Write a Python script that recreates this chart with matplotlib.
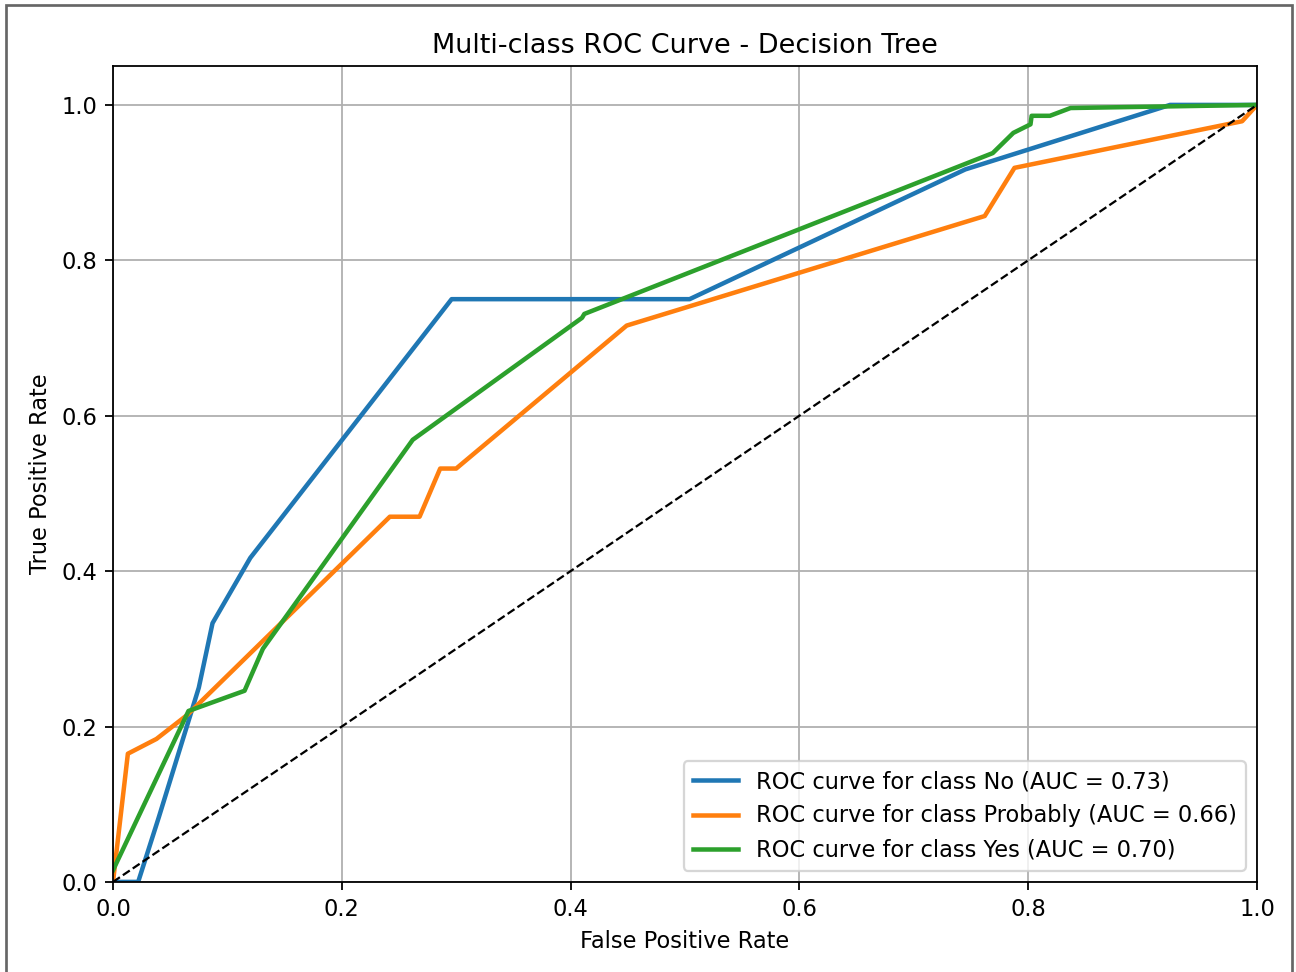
import matplotlib
matplotlib.use("Agg")
import matplotlib.pyplot as plt
from matplotlib.patches import Rectangle

# Data
fpr_no = [0.0, 0.022, 0.04, 0.075, 0.087, 0.12, 0.296, 0.504, 0.745, 0.924, 1.0]
tpr_no = [0.0, 0.0, 0.083, 0.25, 0.333, 0.417, 0.75, 0.75, 0.917, 1.0, 1.0]

fpr_prob = [0.0, 0.013, 0.038, 0.065, 0.242, 0.268, 0.286, 0.30, 0.449, 0.762, 0.788, 0.987, 1.0]
tpr_prob = [0.0, 0.165, 0.184, 0.215, 0.47, 0.47, 0.532, 0.532, 0.716, 0.857, 0.919, 0.979, 1.0]

fpr_yes = [0.0, 0.066, 0.115, 0.131, 0.262, 0.41, 0.412, 0.769, 0.787, 0.802, 0.803, 0.819, 0.837, 1.0]
tpr_yes = [0.015, 0.22, 0.246, 0.30, 0.569, 0.726, 0.731, 0.938, 0.964, 0.975, 0.986, 0.986, 0.996, 1.0]

class_names = ["No", "Probably", "Yes"]
auc_values = [0.73, 0.66, 0.70]
colors = ["#1f77b4", "#ff7f0e", "#2ca02c"]

fig = plt.figure(figsize=(8, 6), dpi=162)
ax = fig.add_axes([113 / 1296, 1 - 881 / 971, (1257 - 113) / 1296, (881 - 66) / 971])

curves = [(fpr_no, tpr_no), (fpr_prob, tpr_prob), (fpr_yes, tpr_yes)]
for (f, t), name, auc, c in zip(curves, class_names, auc_values, colors):
    ax.plot(f, t, color=c, lw=2, label=f"ROC curve for class {name} (AUC = {auc:.2f})")

ax.plot([0, 1], [0, 1], "k--", lw=1)
ax.set_xlim(0.0, 1.0)
ax.set_ylim(0.0, 1.05)
ax.set_xlabel("False Positive Rate")
ax.set_ylabel("True Positive Rate")
ax.set_title("Multi-class ROC Curve - Decision Tree")
ax.legend(loc="lower right")
ax.grid(True)

# screenshot border
fig.patches.append(Rectangle((6 / 1296, -0.01), (1292 - 6) / 1296, 1 - 5 / 971 + 0.01,
                             transform=fig.transFigure, fill=False,
                             edgecolor="#666666", lw=1.2))

fig.savefig("out.png", dpi=162)
